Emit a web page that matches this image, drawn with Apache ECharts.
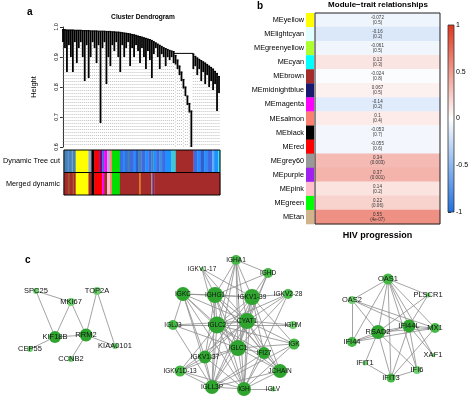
<!DOCTYPE html>
<html>
<head>
<meta charset="utf-8">
<script src="https://cdn.jsdelivr.net/npm/echarts@6/dist/echarts.min.js"></script>
<style>
  html, body { margin: 0; padding: 0; background: #fff; }
  #chart { width: 474px; height: 398px; }
</style>
</head>
<body>
<div id="chart"></div>
<script>
// ---- a: dendrogram leaves (merge height at top, lowest point of each leaf)
const leafTop = [
  0.991, 0.991, 0.990, 0.990, 0.990, 0.990, 0.989, 0.989, 0.989, 0.989,
  0.988, 0.988, 0.988, 0.988, 0.987, 0.987, 0.987, 0.987, 0.986, 0.986,
  0.986, 0.986, 0.985, 0.985, 0.985, 0.984, 0.984, 0.983, 0.983, 0.982,
  0.981, 0.980, 0.979, 0.978, 0.977, 0.975, 0.974, 0.972, 0.970, 0.968,
  0.966, 0.964, 0.962, 0.960, 0.958, 0.955, 0.951, 0.947, 0.943, 0.939,
  0.935, 0.931, 0.928, 0.925, 0.922, 0.920, 0.918,
  0.905, 0.890, 0.870, 0.850, 0.825, 0.800, 0.770, 0.745, 0.720,
  0.910, 0.902, 0.897, 0.892, 0.888, 0.884, 0.880, 0.875, 0.870, 0.865,
  0.860, 0.852, 0.845, 0.835
];
const leafBottom = [
  0.950, 0.930, 0.850, 0.940, 0.900, 0.850, 0.950, 0.880, 0.930, 0.950,
  0.900, 0.820, 0.940, 0.830, 0.900, 0.950, 0.930, 0.880, 0.940, 0.680,
  0.930, 0.950, 0.810, 0.900, 0.870, 0.940, 0.920, 0.950, 0.900, 0.850,
  0.940, 0.900, 0.930, 0.950, 0.870, 0.930, 0.900, 0.940, 0.920, 0.880,
  0.930, 0.900, 0.860, 0.920, 0.890, 0.830, 0.910, 0.930, 0.900, 0.860,
  0.910, 0.900, 0.870, 0.900, 0.890, 0.900, 0.880,
  0.875, 0.860, 0.840, 0.820, 0.795, 0.770, 0.740, 0.715, 0.600,
  0.860, 0.870, 0.840, 0.860, 0.820, 0.850, 0.810, 0.840, 0.800, 0.820,
  0.790, 0.810, 0.720, 0.780
];
// [from leaf, to leaf, height]
const mergeLinks = [[56, 66, 0.912]];

// ---- a: module colour rows [colour, number of genes (relative)]
const treeCutModules = [
  ['steelblue', 4], ['cornflowerblue', 1], ['steelblue', 3], ['#87a9d6', 1], ['steelblue', 3],
  ['yellow', 13], ['#8fa8c8', 3], ['black', 3], ['red', 5], ['purple', 3],
  ['royalblue', 2], ['magenta', 3], ['#b8a8d8', 3], ['salmon', 2], ['#00e000', 8],
  ['royalblue', 3], ['dodgerblue', 2], ['#3a6fd8', 3], ['steelblue', 2], ['royalblue', 4],
  ['dodgerblue', 2], ['#2f5fd0', 3], ['steelblue', 3], ['royalblue', 4], ['dodgerblue', 3],
  ['#4169e1', 3], ['steelblue', 2], ['dodgerblue', 3], ['royalblue', 3], ['#3c8ee0', 3],
  ['royalblue', 3], ['dodgerblue', 6], ['#40c8d8', 5], ['brown', 18],
  ['royalblue', 4], ['dodgerblue', 3], ['#2f5fd0', 4], ['dodgerblue', 3], ['royalblue', 5],
  ['#58b0f0', 2], ['dodgerblue', 4], ['#40e0f0', 2]
];
const mergedModules = [
  ['brown', 4], ['sienna', 2], ['brown', 3], ['#b5654a', 1], ['brown', 2],
  ['yellow', 13], ['brown', 3], ['black', 3], ['red', 8], ['magenta', 2],
  ['brown', 3], ['pink', 3], ['salmon', 2], ['#00e000', 8], ['brown', 20],
  ['orange', 1], ['brown', 11], ['#999999', 1], ['#7a3070', 2], ['brown', 67]
];
const rowLabels = ['Dynamic Tree cut', 'Merged dynamic'];

// ---- b: module-trait relationships
const moduleNames = ['MEyellow', 'MElightcyan', 'MEgreenyellow', 'MEcyan', 'MEbrown',
  'MEmidnightblue', 'MEmagenta', 'MEsalmon', 'MEblack', 'MEred',
  'MEgrey60', 'MEpurple', 'MEpink', 'MEgreen', 'MEtan'];
const moduleCorr = [-0.072, -0.16, -0.061, 0.13, -0.024, 0.067, -0.14, 0.1, -0.053, -0.055,
  0.34, 0.37, 0.14, 0.22, 0.55];
const modulePval = ['0.5', '0.2', '0.5', '0.3', '0.8', '0.5', '0.2', '0.4', '0.7', '0.6',
  '0.003', '0.001', '0.2', '0.06', '4e-07'];
const traitNames = ['HIV progression'];

// ---- c: hub gene networks
const net1Genes = ['SPC25', 'MKI67', 'TOP2A', 'KIF18B', 'RRM2', 'CEP55', 'CCNB2', 'KIAA0101'];
const net1Links = [[0, 1], [0, 3], [1, 3], [1, 4], [2, 4], [2, 7], [3, 4], [3, 5], [4, 6], [4, 7]];
const net2Genes = ['IGHA1', 'IGKV1-17', 'IGHD', 'IGKC', 'IGHG1', 'IGKV1-39', 'IGKV2-28', 'IGLJ3',
  'IGLC2', 'CYAT1', 'IGHM', 'IGLC1', 'IFI27', 'IGK', 'IGKV1-37', 'IGKV1D-13', 'JCHAIN',
  'IGLL3P', 'IGH', 'IGLV'];
const net2Links = [
  [0, 4], [0, 5], [0, 8], [0, 9], [0, 11], [0, 17], [0, 18], [0, 2],
  [1, 4], [1, 5], [1, 9], [1, 8], [2, 5], [2, 9], [2, 4], [2, 11],
  [3, 4], [3, 5], [3, 8], [3, 9], [3, 11], [3, 14], [3, 17], [3, 18], [3, 7],
  [4, 5], [4, 8], [4, 9], [4, 11], [4, 14], [4, 17], [4, 18], [4, 12], [4, 16],
  [5, 6], [5, 8], [5, 9], [5, 11], [5, 14], [5, 17], [5, 18], [5, 12], [5, 16], [5, 13],
  [6, 9], [6, 8], [6, 11], [6, 18], [7, 8], [7, 9], [7, 11], [7, 17],
  [8, 9], [8, 10], [8, 11], [8, 14], [8, 15], [8, 17], [8, 18], [8, 12], [8, 16], [8, 13],
  [9, 10], [9, 11], [9, 14], [9, 17], [9, 18], [9, 12], [9, 16], [9, 13], [9, 15],
  [11, 14], [11, 15], [11, 17], [11, 18], [11, 12], [11, 16], [11, 13],
  [12, 17], [12, 18], [12, 16], [13, 18], [13, 17], [14, 17], [14, 18], [14, 15],
  [15, 17], [15, 18], [16, 18], [16, 17], [17, 18], [18, 19]
];
const net3Genes = ['OAS1', 'OAS2', 'PLSCR1', 'IFI44L', 'MX1', 'RSAD2', 'IFI44', 'XAF1', 'IFIT1', 'IFI6', 'IFIT3'];
const net3Links = [
  [0, 1], [0, 2], [0, 3], [0, 4], [0, 5], [0, 6], [0, 10], [0, 9], [0, 7],
  [1, 5], [1, 4], [1, 6], [1, 3], [2, 5], [2, 3], [3, 5], [3, 4], [3, 6], [3, 10], [3, 9], [3, 7],
  [4, 5], [4, 6], [4, 10], [5, 6], [5, 8], [5, 10], [5, 9], [8, 10], [9, 10]
];

// layout of the network drawings (page pixels) and node sizes
const net1Pos = [[36, 291], [71, 302], [97, 291], [55, 337], [86, 335], [30, 349], [71, 359], [115, 346]];
const net1Size = [6, 8, 8, 12, 13, 6, 6, 6];
const net2Pos = [[236, 260], [202, 269], [268, 273], [183, 294], [215, 295], [252, 297], [288, 294],
  [173, 325], [217, 325], [247, 321], [293, 325], [238, 348], [264, 353], [294, 344], [205, 357],
  [180, 371], [280, 371], [212, 387], [244, 389], [273, 389]];
const net2Size = [10, 4, 10, 14, 16, 16, 10, 10, 17, 16, 8, 16, 12, 11, 13, 11, 14, 14, 14, 5];
const net3Pos = [[388, 279], [352, 300], [428, 295], [409, 326], [435, 328], [378, 332], [352, 342],
  [433, 355], [365, 363], [417, 370], [391, 378]];
const net3Size = [11, 8, 5, 13, 10, 14, 10, 4, 5, 8, 9];

const rColor = {
  yellow: '#FFFF00', lightcyan: '#E0FFFF', greenyellow: '#ADFF2F', cyan: '#00FFFF',
  brown: '#A52A2A', midnightblue: '#191970', magenta: '#FF00FF', salmon: '#FA8072',
  black: '#000000', red: '#FF0000', grey60: '#999999', purple: '#A020F0', pink: '#FFC0CB',
  green: '#00FF00', tan: '#D2B48C'
};
const FONT = 'Liberation Sans, Arial, sans-serif';

var chart = echarts.init(document.getElementById('chart'));

// build colour row rectangles
function buildRow(mods, row) {
  let acc = 0;
  return mods.map(function (m) {
    const seg = { start: acc, end: acc + m[1], row: row, color: m[0] };
    acc += m[1];
    return seg;
  });
}
const segments = buildRow(treeCutModules, 0).concat(buildRow(mergedModules, 1));
const rowTotal = treeCutModules.reduce(function (s, m) { return s + m[1]; }, 0);

function greenFor(size) {
  return size >= 12 ? '#2fa52f' : (size >= 9 ? '#45b845' : '#6fcf6f');
}
function graphSeries(genes, pos, size, links, fontSize) {
  return {
    type: 'graph',
    layout: 'none',
    coordinateSystem: 'cartesian2d',
    xAxisIndex: 5,
    yAxisIndex: 5,
    silent: true,
    data: genes.map(function (g, i) {
      return { name: g, value: pos[i], symbolSize: size[i], itemStyle: { color: greenFor(size[i]) } };
    }),
    links: links.map(function (l) { return { source: l[0], target: l[1] }; }),
    lineStyle: { color: '#8c8c8c', width: 0.8, opacity: 1 },
    label: {
      show: true, position: 'inside', formatter: '{b}',
      color: '#111', fontSize: fontSize, fontFamily: FONT
    },
    z: 3
  };
}

const option = {
  animation: false,
  backgroundColor: '#fff',
  textStyle: { fontFamily: FONT },
  visualMap: {
    show: false, min: -1, max: 1, seriesIndex: 4,
    inRange: { color: ['#1f70e0', '#ffffff', '#e0351e'] }
  },
  graphic: [
    { type: 'text', x: 27, y: 12, style: { text: 'a', font: 'bold 10px ' + FONT, fill: '#000', align: 'left', verticalAlign: 'middle' } },
    { type: 'text', x: 143, y: 17, style: { text: 'Cluster Dendrogram', font: 'bold 6.6px ' + FONT, fill: '#000', align: 'center', verticalAlign: 'middle' } },
    { type: 'text', x: 257, y: 6, style: { text: 'b', font: 'bold 10px ' + FONT, fill: '#000', align: 'left', verticalAlign: 'middle' } },
    { type: 'text', x: 378, y: 5, style: { text: 'Module\u2212trait relationships', font: 'bold 8px ' + FONT, fill: '#000', align: 'center', verticalAlign: 'middle' } },
    { type: 'text', x: 25, y: 260, style: { text: 'c', font: 'bold 10px ' + FONT, fill: '#000', align: 'left', verticalAlign: 'middle' } }
  ],
  grid: [
    { left: 62, top: 27, width: 158, height: 120 },   // dendrogram
    { left: 61, top: 150, width: 159, height: 45 },   // module colour rows
    { left: 315, top: 13, width: 125, height: 211 },  // heatmap
    { left: 306, top: 13, width: 8, height: 211 },    // module swatches
    { left: 448, top: 25, width: 6, height: 187 },    // colour legend
    { left: 0, top: 0, width: 474, height: 398 }      // networks
  ],
  xAxis: [
    { gridIndex: 0, type: 'value', min: -0.5, max: leafTop.length - 0.5, show: false },
    { gridIndex: 1, type: 'value', min: 0, max: rowTotal, show: false },
    {
      gridIndex: 2, type: 'category', data: traitNames,
      axisLine: { show: false }, axisTick: { show: false },
      axisLabel: { fontSize: 9, fontWeight: 'bold', color: '#000', margin: 7 }
    },
    { gridIndex: 3, type: 'category', data: ['m'], show: false },
    { gridIndex: 4, type: 'value', min: 0, max: 1, show: false },
    { gridIndex: 5, type: 'value', min: 0, max: 474, show: false }
  ],
  yAxis: [
    {
      gridIndex: 0, type: 'value', min: 0.6, max: 1.0, interval: 0.1,
      name: 'Height', nameLocation: 'middle', nameRotate: 90, nameGap: 24,
      nameTextStyle: { fontSize: 7.5, color: '#000' },
      axisLine: { show: true, lineStyle: { color: '#000', width: 0.8 } },
      axisTick: { show: true, length: 3, lineStyle: { color: '#000', width: 0.8 } },
      axisLabel: { rotate: 90, fontSize: 5.5, color: '#000', margin: 3, formatter: function (v) { return v.toFixed(1); } },
      splitLine: { show: false }
    },
    {
      gridIndex: 1, type: 'category', data: rowLabels, inverse: true,
      axisLine: { show: false }, axisTick: { show: false },
      axisLabel: { fontSize: 7.3, color: '#000', margin: 4 }
    },
    {
      gridIndex: 2, type: 'category', data: moduleNames, inverse: true,
      axisLine: { show: false }, axisTick: { show: false },
      axisLabel: { fontSize: 7.3, color: '#000', margin: 11 }
    },
    { gridIndex: 3, type: 'category', data: moduleNames, inverse: true, show: false },
    {
      gridIndex: 4, type: 'value', min: -1, max: 1, interval: 0.5, position: 'right',
      axisLine: { show: false },
      axisTick: { show: true, length: 3, lineStyle: { color: '#000', width: 0.8 } },
      axisLabel: { fontSize: 7, color: '#000', margin: 2, formatter: function (v) { return String(v); } },
      splitLine: { show: false }
    },
    { gridIndex: 5, type: 'value', min: 0, max: 398, inverse: true, show: false }
  ],
  series: [
    // 0: dendrogram leaves
    {
      type: 'custom', xAxisIndex: 0, yAxisIndex: 0, silent: true,
      data: leafTop.map(function (t, i) { return [i, t, leafBottom[i]]; }),
      renderItem: function (params, api) {
        const x = api.value(0);
        const top = api.coord([x, api.value(1)]);
        const bot = api.coord([x, api.value(2)]);
        const base = api.coord([x, 0.6]);
        const l = api.coord([x - 0.5, api.value(1)]);
        const r = api.coord([x + 0.5, api.value(1)]);
        return {
          type: 'group', children: [
            { type: 'line', shape: { x1: bot[0], y1: bot[1], x2: base[0], y2: base[1] }, style: { stroke: '#9a9a9a', lineWidth: 0.6, lineDash: [1, 2] } },
            { type: 'line', shape: { x1: top[0], y1: top[1], x2: bot[0], y2: bot[1] }, style: { stroke: '#000', lineWidth: 1.8 } },
            { type: 'line', shape: { x1: l[0], y1: l[1], x2: r[0], y2: r[1] }, style: { stroke: '#000', lineWidth: 1.2 } }
          ]
        };
      }
    },
    // 1: merge links
    {
      type: 'custom', xAxisIndex: 0, yAxisIndex: 0, silent: true,
      data: mergeLinks,
      renderItem: function (params, api) {
        const a = api.coord([api.value(0), api.value(2)]);
        const b = api.coord([api.value(1), api.value(2)]);
        return { type: 'line', shape: { x1: a[0], y1: a[1], x2: b[0], y2: b[1] }, style: { stroke: '#000', lineWidth: 1 } };
      }
    },
    // 2: module colour rows
    {
      type: 'custom', xAxisIndex: 1, yAxisIndex: 1, silent: true,
      data: segments.map(function (s, k) { return [s.start, s.end, s.row, k]; }),
      renderItem: function (params, api) {
        const s = segments[params.dataIndex];
        const a = api.coord([api.value(0), api.value(2)]);
        const b = api.coord([api.value(1), api.value(2)]);
        const h = api.size([0, 1])[1];
        return { type: 'rect', shape: { x: a[0], y: a[1] - h / 2, width: b[0] - a[0] + 0.3, height: h }, style: { fill: s.color } };
      }
    },
    // 3: row outlines
    {
      type: 'custom', xAxisIndex: 1, yAxisIndex: 1, silent: true,
      data: [[0, 0], [0, 1]],
      renderItem: function (params, api) {
        const a = api.coord([0, api.value(1)]);
        const b = api.coord([rowTotal, api.value(1)]);
        const h = api.size([0, 1])[1];
        return { type: 'rect', shape: { x: a[0], y: a[1] - h / 2, width: b[0] - a[0], height: h }, style: { fill: 'none', stroke: '#000', lineWidth: 1 } };
      }
    },
    // 4: heatmap
    {
      type: 'heatmap', xAxisIndex: 2, yAxisIndex: 2, silent: true,
      data: moduleCorr.map(function (c, i) { return [0, i, c]; }),
      label: {
        show: true, fontSize: 4.5, lineHeight: 5, color: '#333',
        formatter: function (p) { return String(moduleCorr[p.dataIndex]) + '\n(' + modulePval[p.dataIndex] + ')'; }
      },
      itemStyle: { borderWidth: 0 }
    },
    // 5: heatmap frame
    {
      type: 'custom', xAxisIndex: 2, yAxisIndex: 2, silent: true, z: 4,
      data: [[0, 0]],
      renderItem: function (params, api) {
        const cs = params.coordSys;
        return { type: 'rect', shape: { x: cs.x, y: cs.y, width: cs.width, height: cs.height }, style: { fill: 'none', stroke: '#222', lineWidth: 1 } };
      }
    },
    // 6: module swatches
    {
      type: 'custom', xAxisIndex: 3, yAxisIndex: 3, silent: true,
      data: moduleNames.map(function (m, i) { return [0, i]; }),
      renderItem: function (params, api) {
        const cs = params.coordSys;
        const c = api.coord([0, api.value(1)]);
        const h = api.size([0, 1])[1];
        const key = moduleNames[params.dataIndex].slice(2);
        return { type: 'rect', shape: { x: cs.x, y: c[1] - h / 2, width: cs.width, height: h + 0.3 }, style: { fill: rColor[key] } };
      }
    },
    // 7: colour legend bar
    {
      type: 'custom', xAxisIndex: 4, yAxisIndex: 4, silent: true,
      data: [[0, 0]],
      renderItem: function (params, api) {
        const cs = params.coordSys;
        return {
          type: 'rect', shape: { x: cs.x, y: cs.y, width: cs.width, height: cs.height },
          style: {
            fill: new echarts.graphic.LinearGradient(0, 0, 0, 1, [
              { offset: 0, color: '#e0351e' }, { offset: 0.5, color: '#ffffff' }, { offset: 1, color: '#1f70e0' }
            ]),
            stroke: '#333', lineWidth: 0.8
          }
        };
      }
    },
    // 8-10: networks
    graphSeries(net1Genes, net1Pos, net1Size, net1Links, 7.5),
    graphSeries(net2Genes, net2Pos, net2Size, net2Links, 6.5),
    graphSeries(net3Genes, net3Pos, net3Size, net3Links, 7.5)
  ]
};

chart.setOption(option);
</script>
</body>
</html>
